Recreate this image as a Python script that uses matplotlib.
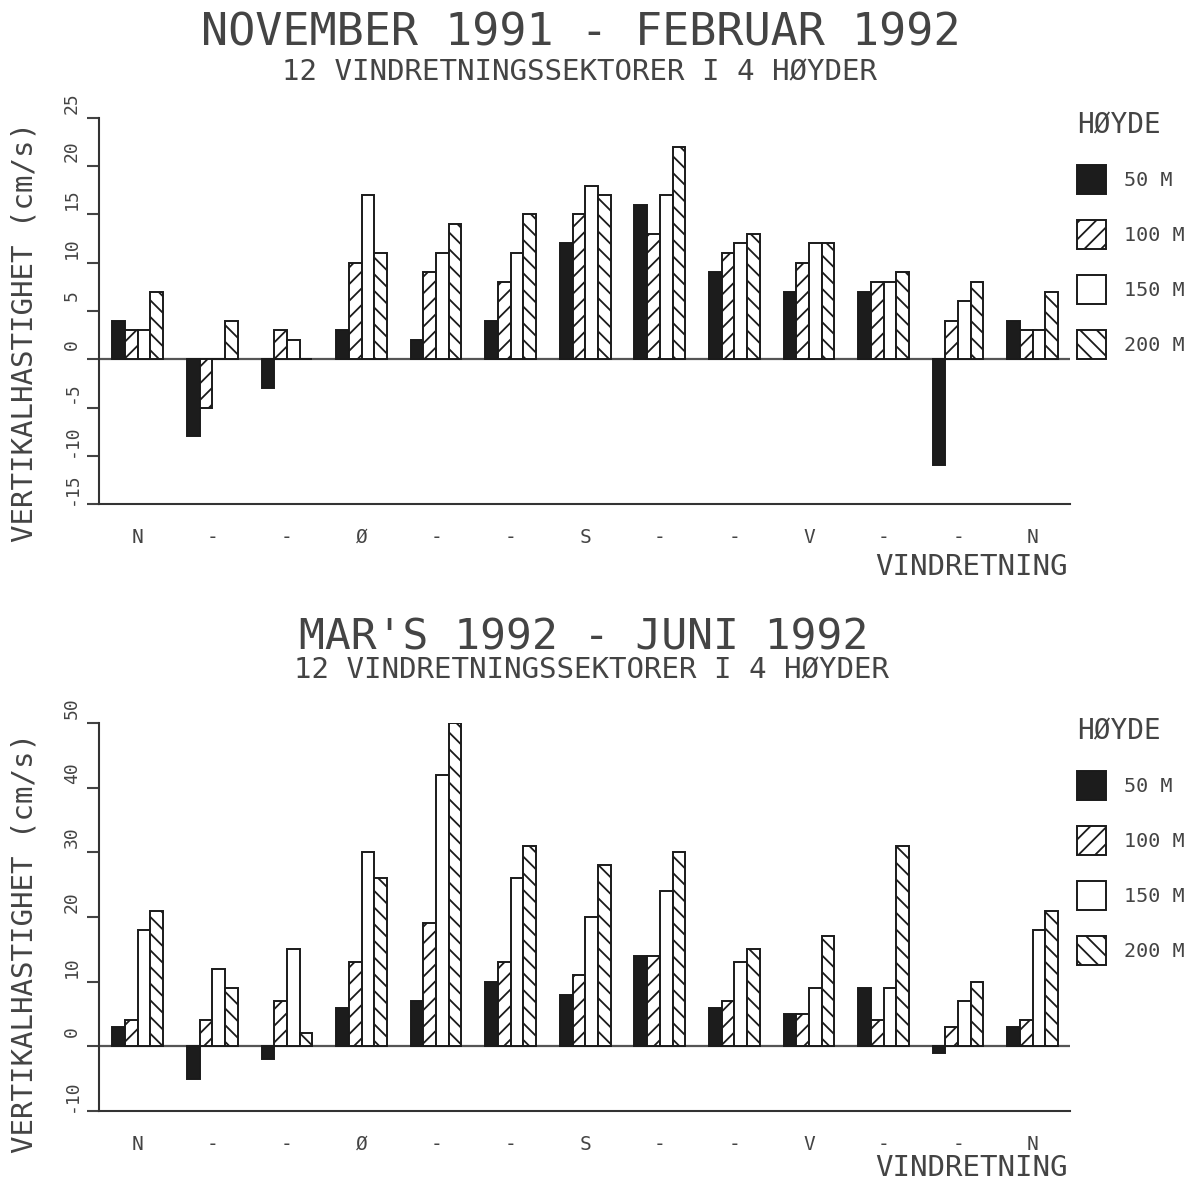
import matplotlib
matplotlib.use('Agg')
import matplotlib.pyplot as plt
import matplotlib.transforms as mtransforms
import numpy as np

plt.rcParams['font.family'] = ['DejaVu Sans Mono', 'DejaVu Sans']
plt.rcParams['axes.unicode_minus'] = False
plt.rcParams['hatch.linewidth'] = 1.3
plt.rcParams['hatch.color'] = '#222222'

directions = ["N", "-", "-", "Ø", "-", "-", "S", "-", "-", "V", "-", "-", "N"]
heights = ["50 M", "100 M", "150 M", "200 M"]

title_top = "NOVEMBER 1991 - FEBRUAR 1992"
title_bot = "MAR'S 1992 - JUNI 1992"
subtitle = "12 VINDRETNINGSSEKTORER I 4 HØYDER"
ylabel = "VERTIKALHASTIGHET (cm/s)"
xlabel = "VINDRETNING"
legend_title = "HØYDE"

nov_50 = [4, -8, -3, 3, 2, 4, 12, 16, 9, 7, 7, -11, 4]
nov_100 = [3, -5, 3, 10, 9, 8, 15, 13, 11, 10, 8, 4, 3]
nov_150 = [3, 0, 2, 17, 11, 11, 18, 17, 12, 12, 8, 6, 3]
nov_200 = [7, 4, 0, 11, 14, 15, 17, 22, 13, 12, 9, 8, 7]

mar_50 = [3, -5, -2, 6, 7, 10, 8, 14, 6, 5, 9, -1, 3]
mar_100 = [4, 4, 7, 13, 19, 13, 11, 14, 7, 5, 4, 3, 4]
mar_150 = [18, 12, 15, 30, 42, 26, 20, 24, 13, 9, 9, 7, 18]
mar_200 = [21, 9, 2, 26, 50, 31, 28, 30, 15, 17, 31, 10, 21]

nov_ticks = [-15, -10, -5, 0, 5, 10, 15, 20, 25]
mar_ticks = [-10, 0, 10, 20, 30, 40, 50]

styles = [
    dict(facecolor='#1c1c1c', hatch=None),
    dict(facecolor='white', hatch='//'),
    dict(facecolor='white', hatch=None),
    dict(facecolor='white', hatch='\\\\'),
]

W, H = 1193, 1188
fig = plt.figure(figsize=(W / 100, H / 100), dpi=100)
fig.patch.set_facecolor('white')
tc = '#444444'


def draw(ax, series, yticks, ylim, legend_top_px):
    x = np.arange(len(directions))
    w = 0.17
    handles = []
    for k, (vals, st, lab) in enumerate(zip(series, styles, heights)):
        b = ax.bar(x + (k - 1.5) * w, vals, width=w, facecolor=st['facecolor'],
                   hatch=st['hatch'], edgecolor='#1a1a1a', linewidth=1.4,
                   label=lab, zorder=3)
        handles.append(b)
    ax.axhline(0, color='#555555', lw=1.6, zorder=2)
    ax.set_xlim(-0.52, 12.5)
    ax.set_ylim(*ylim)
    ax.set_yticks(yticks)
    ax.set_yticklabels([str(t) for t in yticks])
    ax.set_xticks(x)
    ax.set_xticklabels(directions)
    for s in ['top', 'right']:
        ax.spines[s].set_visible(False)
    for s in ['left', 'bottom']:
        ax.spines[s].set_linewidth(1.5)
        ax.spines[s].set_color('#333333')
    ax.tick_params(axis='y', direction='out', length=9, width=1.5,
                   labelrotation=90, labelsize=13, pad=4, colors=tc)
    ax.tick_params(axis='x', length=0, pad=17, labelsize=14, colors=tc)
    shift = mtransforms.ScaledTranslation(0, 15 / 100, fig.dpi_scale_trans)
    for lbl in ax.get_yticklabels():
        lbl.set_verticalalignment('center')
        lbl.set_transform(lbl.get_transform() + shift)
    leg = ax.legend(handles=handles, title=legend_title, loc='upper left',
                    bbox_to_anchor=(1077 / W, 1 - legend_top_px / H),
                    bbox_transform=fig.transFigure, frameon=False, fontsize=14.5,
                    title_fontsize=20, handlelength=1.44, handleheight=1.84,
                    labelspacing=1.29, handletextpad=0.9, alignment='left',
                    borderaxespad=0, borderpad=0)
    for t in leg.get_texts():
        t.set_color(tc)
    leg.get_title().set_color(tc)
    return ax


ax1 = fig.add_axes([99 / W, 1 - 504 / H, (1070 - 99) / W, (504 - 118) / H])
draw(ax1, [nov_50, nov_100, nov_150, nov_200], nov_ticks, (-15, 25), 111)
ax2 = fig.add_axes([99 / W, 1 - 1111 / H, (1070 - 99) / W, (1111 - 723) / H])
draw(ax2, [mar_50, mar_100, mar_150, mar_200], mar_ticks, (-10, 50), 717)

fig.text(581 / W, 1 - 33 / H, title_top, ha='center', va='center', fontsize=32.5, color=tc)
fig.text(580 / W, 1 - 72 / H, subtitle, ha='center', va='center', fontsize=21, color=tc)
fig.text(584 / W, 1 - 637 / H, title_bot, ha='center', va='center', fontsize=31, color=tc)
fig.text(591 / W, 1 - 670 / H, subtitle, ha='center', va='center', fontsize=21, color=tc)

fig.text(25 / W, 1 - 332 / H, ylabel, rotation=90, ha='center', va='center', fontsize=21, color=tc)
fig.text(25 / W, 1 - 943 / H, ylabel, rotation=90, ha='center', va='center', fontsize=21, color=tc)
fig.text(1068 / W, 1 - 567 / H, xlabel, ha='right', va='center', fontsize=21, color=tc)
fig.text(1068 / W, 1 - 1168 / H, xlabel, ha='right', va='center', fontsize=21, color=tc)

fig.savefig('out.png', dpi=100, facecolor='white')
